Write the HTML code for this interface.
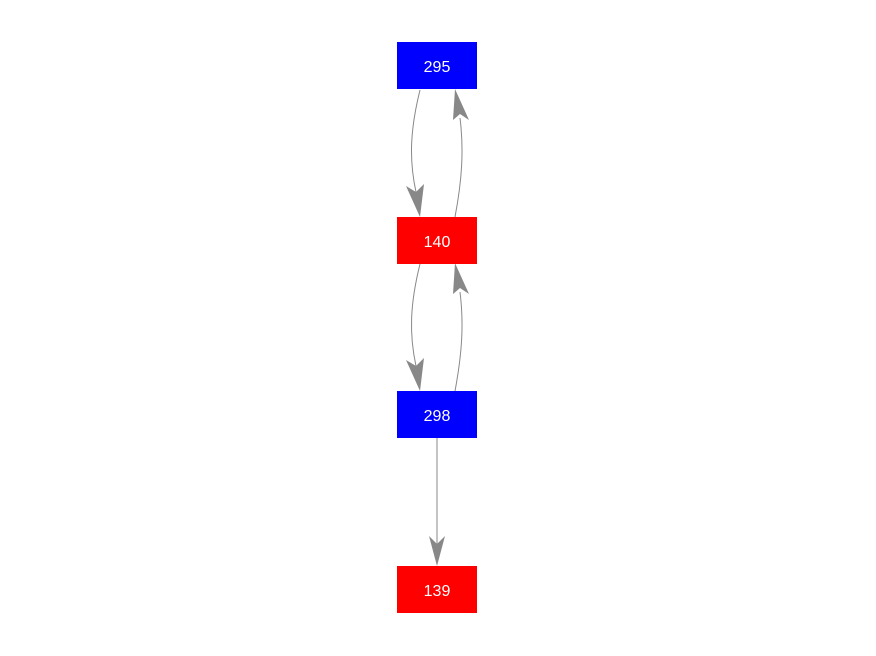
<!DOCTYPE html>
<html><head><style>
body{margin:0;width:876px;height:656px;background:#fff;position:relative;overflow:hidden;font-family:"Liberation Sans",sans-serif}
.n{position:absolute;left:397px;width:80px;height:47px;line-height:51px;text-align:center;color:#fff;font-size:16px}
</style></head><body>
<svg width="876" height="656" style="position:absolute;left:0;top:0">
<g fill="none" stroke="#888" stroke-width="1">
<path d="M420,90 C410,130 409,160 416,192"/>
<path d="M455,217 C462,180 464,150 460,118"/>
<path d="M420,264 C410,304 409,334 416,366"/>
<path d="M455,391 C462,354 464,324 460,292"/>
<path d="M437,437 L437,545"/>
</g>
<g fill="#888">
<polygon points="420,217 406,186 416,192 424,184"/>
<polygon points="455,89 453,120 460,114 469,120"/>
<polygon points="420,391 406,360 416,366 424,358"/>
<polygon points="455,263 453,294 460,288 469,294"/>
<polygon points="437,566 429,536 437,544 445,536"/>
</g>
</svg>
<div class="n" style="top:42px;background:#0000ff">295</div>
<div class="n" style="top:217px;background:#ff0000">140</div>
<div class="n" style="top:391px;background:#0000ff">298</div>
<div class="n" style="top:566px;background:#ff0000">139</div>
</body></html>
